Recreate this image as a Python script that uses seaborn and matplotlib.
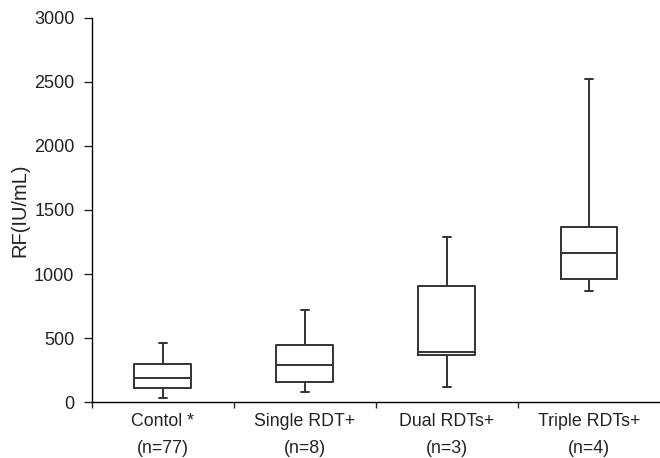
import pandas as pd
import numpy as np
import matplotlib.pyplot as plt
import seaborn as sns

# ---------- data: five-number summaries ----------
groups = ["Contol *", "Single RDT+", "Dual RDTs+", "Triple RDTs+"]
counts = ["(n=77)", "(n=8)", "(n=3)", "(n=4)"]

control = [31, 107, 185, 297, 458]     # min, q1, median, q3, max
single = [80, 159, 289, 443, 719]
dual = [115, 370, 392, 906, 1289]
triple = [867, 961, 1167, 1365, 2523]

yticks = [0, 500, 1000, 1500, 2000, 2500, 3000]

rows = []
for name, vals in zip(groups, [control, single, dual, triple]):
    for v in vals:
        rows.append({"group": name, "RF": v})
df = pd.DataFrame(rows)

# ---------- plot ----------
sns.set_style("ticks")
plt.rcParams['font.family'] = ['Liberation Sans', 'DejaVu Sans']

fig = plt.figure(figsize=(6.6, 4.58), dpi=100)
ax = fig.add_axes([0.139, 0.122, 0.861, 0.839])

sns.boxplot(data=df, x="group", y="RF", order=groups, whis=(0, 100),
            width=0.4, fill=False, color="#333333", linewidth=1.4,
            capwidths=0.06, ax=ax)

ax.set_ylim(0, 3000)
ax.set_xlim(-0.5, 3.5)
ax.set_yticks(yticks)
ax.set_yticklabels([str(t) for t in yticks])
ax.set_xticks(range(len(groups)))
ax.set_xticklabels([g + "\n" + c for g, c in zip(groups, counts)],
                   linespacing=1.75)
ax.set_xticks([-0.5, 0.5, 1.5, 2.5], minor=True)

ax.tick_params(axis="x", which="major", length=0, pad=8, labelsize=12.8,
               labelcolor="#222222")
ax.tick_params(axis="x", which="minor", length=4, width=1, direction="out")
ax.tick_params(axis="y", length=6, width=1, pad=6.5, labelsize=13,
               labelcolor="#222222")

ax.set_xlabel("")
ax.set_ylabel("RF(IU/mL)", fontsize=14.5, labelpad=3, color="#222222")

sns.despine(ax=ax)
for s in ["left", "bottom"]:
    ax.spines[s].set_color("black")
    ax.spines[s].set_linewidth(1)

fig.savefig("out.png", dpi=100)
